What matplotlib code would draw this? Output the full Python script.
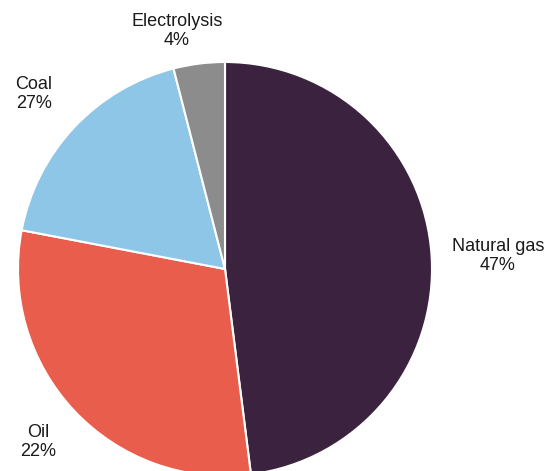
import matplotlib.pyplot as plt

plt.rcParams['font.family'] = ['Liberation Sans', 'DejaVu Sans']

# slice sizes as drawn, and labels as printed in the chart
sources = ["Natural gas", "Oil", "Coal", "Electrolysis"]
shares = [48, 30, 18, 4]
label_pcts = ["47%", "22%", "27%", "4%"]
colors = ["#3b2340", "#e85d4c", "#8ec6e8", "#8c8c8c"]

# label centres in pie units (radius = 1)
label_pos = [(1.319, 0.063), (-0.903, -0.836), (-0.923, 0.845), (-0.232, 1.150)]

fig = plt.figure(figsize=(5.5, 4.71), dpi=100)
ax = fig.add_axes([0, 0, 1, 1])

labels = [f"{s}\n{p}" for s, p in zip(sources, label_pcts)]
wedges, texts = ax.pie(
    shares, labels=labels, colors=colors, startangle=90, counterclock=False,
    wedgeprops=dict(edgecolor="white", linewidth=1.5),
    textprops=dict(fontsize=13, color="#1a1a1a"),
)
for t, pos in zip(texts, label_pos):
    t.set_position(pos)
    t.set_ha("center")
    t.set_va("center")

ax.set_aspect("equal")
ax.set_xlim(-225 / 207, 325 / 207)
ax.set_ylim(-202 / 207, 269 / 207)
ax.axis("off")

fig.savefig("out.png", dpi=100)
